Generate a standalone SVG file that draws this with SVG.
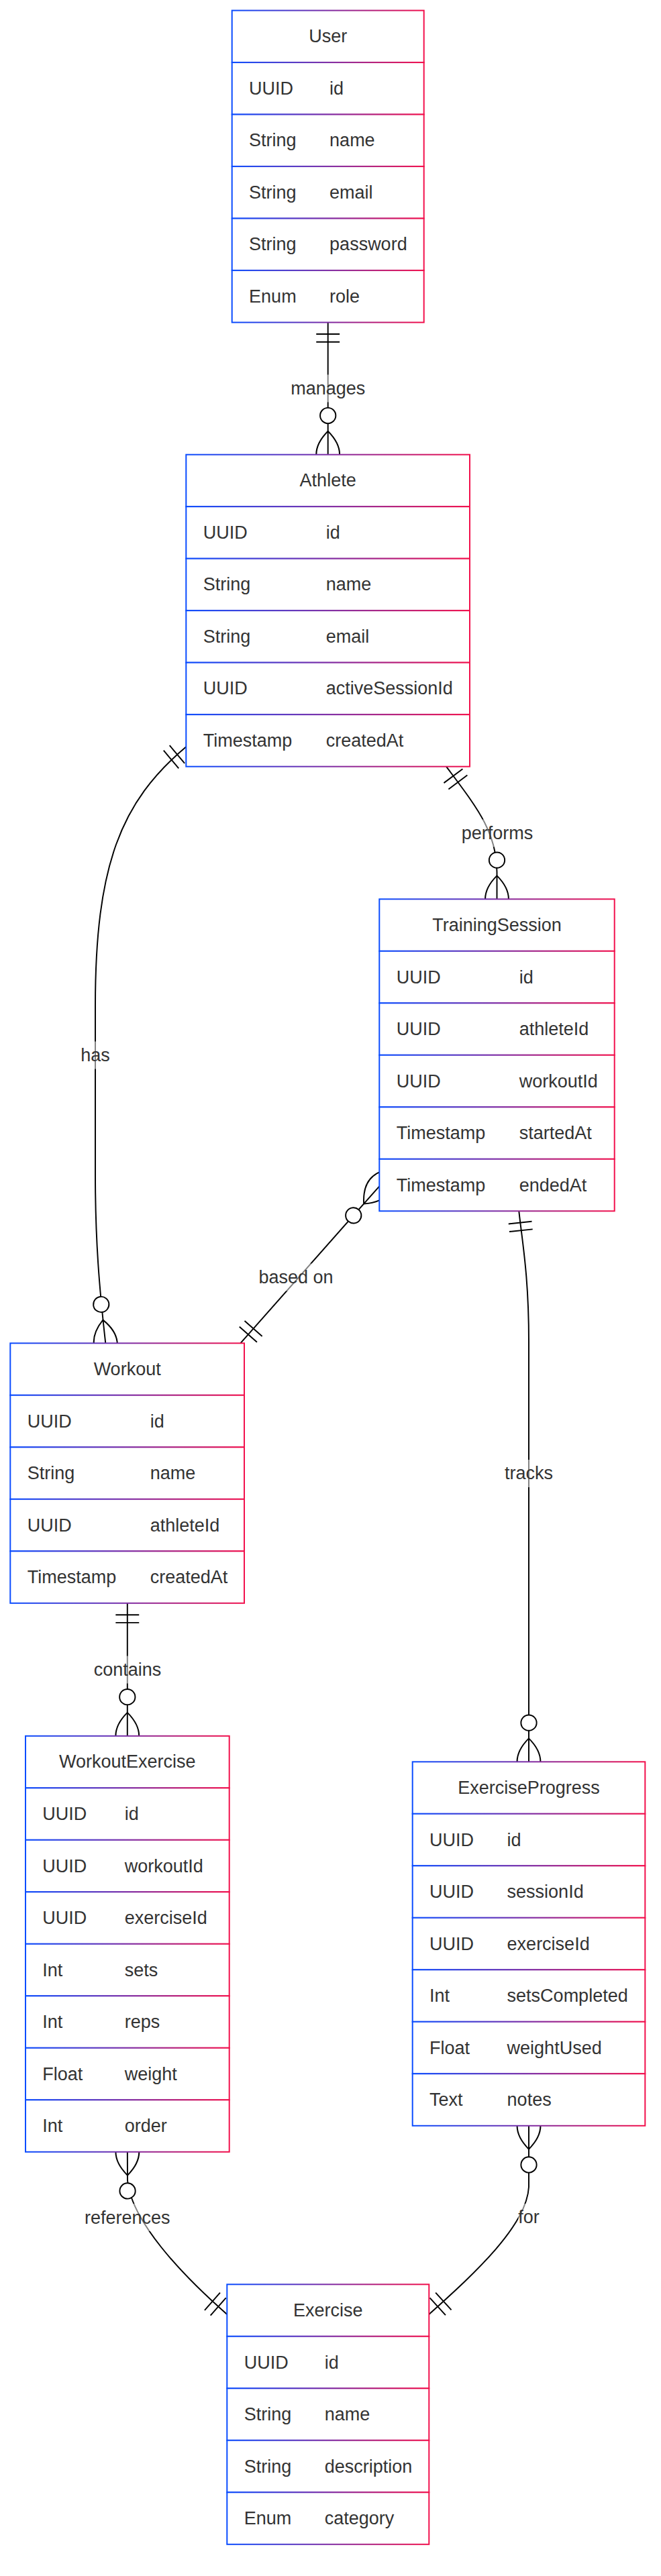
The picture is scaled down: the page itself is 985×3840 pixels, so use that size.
<svg xmlns="http://www.w3.org/2000/svg" width="985" height="3840" viewBox="0 0 985 3840">
<defs>
<linearGradient id="bg" x1="0" y1="0" x2="1" y2="0">
<stop offset="0" stop-color="#0a4cff"/>
<stop offset="1" stop-color="#f2104c"/>
</linearGradient>
<marker id="many" markerUnits="userSpaceOnUse" viewBox="0 0 57 36" markerWidth="110.6" markerHeight="69.8" refX="39" refY="18" orient="auto" overflow="visible">
<circle cx="9" cy="18" r="6" fill="#fff" stroke="#000" stroke-width="1"/>
<path d="M21,18 Q39,0 57,18 Q39,36 21,18" fill="none" stroke="#000" stroke-width="1"/>
</marker>
<marker id="one" markerUnits="userSpaceOnUse" viewBox="0 0 18 18" markerWidth="34.9" markerHeight="34.9" refX="0" refY="9" orient="auto" overflow="visible">
<path d="M9,0 L9,18 M15,0 L15,18" fill="none" stroke="#000" stroke-width="1"/>
</marker>
</defs>
<style>
.row{fill:#fff;stroke:url(#bg);stroke-width:2}
.t{font-family:"Liberation Sans",Arial,sans-serif;font-size:27px;fill:#333}
.c{text-anchor:middle}
.e{fill:none;stroke:#000;stroke-width:1.94;marker-start:url(#one);marker-end:url(#many)}
.lb{fill:#fff;fill-opacity:0.5}
</style>
<rect width="985" height="3840" fill="#fff"/>
<g id="connectors">
<path class="e" d="M488.7,480.6 L488.7,677.7"/>
<path class="e" d="M665,1142.7 C710,1203 740.5,1240 740.5,1300 L740.5,1340.3"/>
<path class="e" d="M277.3,1113.3 C180,1195 142,1290 142,1500 L142,1750 C142,1850 148,1920 157.3,2002.3"/>
<path class="e" d="M358.3,2002.3 L565.3,1768.3"/>
<path class="e" d="M773.3,1805.3 C778,1850 788,1900 788,2000 L788,2626.3"/>
<path class="e" d="M189.8,2389.8 L189.8,2587.8"/>
<path class="e" d="M338.3,3450 C270,3390 195,3310 190,3250 L189.85,3207.8"/>
<path class="e" d="M639.3,3450 C700,3395 785,3320 788,3260 L788,3168.8"/>
<g id="labels">
<rect class="lb" x="433.2" y="558.5" width="111" height="41"/><text class="t c" x="488.7" y="588">manages</text>
<rect class="lb" x="687.7" y="1221.5" width="106.5" height="41"/><text class="t c" x="741" y="1251">performs</text>
<rect class="lb" x="120.2" y="1552.5" width="43.5" height="41"/><text class="t c" x="142" y="1582">has</text>
<rect class="lb" x="385.5" y="1883.5" width="111" height="41"/><text class="t c" x="441" y="1912.5">based on</text>
<rect class="lb" x="752" y="2176" width="72" height="41"/><text class="t c" x="788" y="2205">tracks</text>
<rect class="lb" x="139.7" y="2468.5" width="100.5" height="41"/><text class="t c" x="190" y="2498">contains</text>
<rect class="lb" x="126" y="3285" width="127.5" height="41"/><text class="t c" x="189.7" y="3314.5">references</text>
<rect class="lb" x="772.2" y="3285" width="31.5" height="41"/><text class="t c" x="788" y="3314">for</text>
</g>
</g>
<g id="User">
<rect class="row" x="345.7" y="15.6" width="286" height="77.5"/>
<rect class="row" x="345.7" y="93.1" width="286" height="77.5"/>
<rect class="row" x="345.7" y="170.6" width="286" height="77.5"/>
<rect class="row" x="345.7" y="248.1" width="286" height="77.5"/>
<rect class="row" x="345.7" y="325.6" width="286" height="77.5"/>
<rect class="row" x="345.7" y="403.1" width="286" height="77.5"/>
<text class="t c" x="488.7" y="62.85">User</text>
<text class="t" x="371.1" y="140.85">UUID</text><text class="t" x="491.1" y="140.85">id</text>
<text class="t" x="371.1" y="218.35">String</text><text class="t" x="491.1" y="218.35">name</text>
<text class="t" x="371.1" y="295.85">String</text><text class="t" x="491.1" y="295.85">email</text>
<text class="t" x="371.1" y="373.35">String</text><text class="t" x="491.1" y="373.35">password</text>
<text class="t" x="371.1" y="450.85">Enum</text><text class="t" x="491.1" y="450.85">role</text>
</g>
<g id="Athlete">
<rect class="row" x="277.3" y="677.7" width="422.7" height="77.5"/>
<rect class="row" x="277.3" y="755.2" width="422.7" height="77.5"/>
<rect class="row" x="277.3" y="832.7" width="422.7" height="77.5"/>
<rect class="row" x="277.3" y="910.2" width="422.7" height="77.5"/>
<rect class="row" x="277.3" y="987.7" width="422.7" height="77.5"/>
<rect class="row" x="277.3" y="1065.2" width="422.7" height="77.5"/>
<text class="t c" x="488.65" y="724.95">Athlete</text>
<text class="t" x="302.7" y="802.95">UUID</text><text class="t" x="485.7" y="802.95">id</text>
<text class="t" x="302.7" y="880.45">String</text><text class="t" x="485.7" y="880.45">name</text>
<text class="t" x="302.7" y="957.95">String</text><text class="t" x="485.7" y="957.95">email</text>
<text class="t" x="302.7" y="1035.45">UUID</text><text class="t" x="485.7" y="1035.45">activeSessionId</text>
<text class="t" x="302.7" y="1112.95">Timestamp</text><text class="t" x="485.7" y="1112.95">createdAt</text>
</g>
<g id="TrainingSession">
<rect class="row" x="565.3" y="1340.3" width="350.4" height="77.5"/>
<rect class="row" x="565.3" y="1417.8" width="350.4" height="77.5"/>
<rect class="row" x="565.3" y="1495.3" width="350.4" height="77.5"/>
<rect class="row" x="565.3" y="1572.8" width="350.4" height="77.5"/>
<rect class="row" x="565.3" y="1650.3" width="350.4" height="77.5"/>
<rect class="row" x="565.3" y="1727.8" width="350.4" height="77.5"/>
<text class="t c" x="740.5" y="1387.55">TrainingSession</text>
<text class="t" x="590.7" y="1465.55">UUID</text><text class="t" x="773.7" y="1465.55">id</text>
<text class="t" x="590.7" y="1543.05">UUID</text><text class="t" x="773.7" y="1543.05">athleteId</text>
<text class="t" x="590.7" y="1620.55">UUID</text><text class="t" x="773.7" y="1620.55">workoutId</text>
<text class="t" x="590.7" y="1698.05">Timestamp</text><text class="t" x="773.7" y="1698.05">startedAt</text>
<text class="t" x="590.7" y="1775.55">Timestamp</text><text class="t" x="773.7" y="1775.55">endedAt</text>
</g>
<g id="Workout">
<rect class="row" x="15.3" y="2002.3" width="348.7" height="77.5"/>
<rect class="row" x="15.3" y="2079.8" width="348.7" height="77.5"/>
<rect class="row" x="15.3" y="2157.3" width="348.7" height="77.5"/>
<rect class="row" x="15.3" y="2234.8" width="348.7" height="77.5"/>
<rect class="row" x="15.3" y="2312.3" width="348.7" height="77.5"/>
<text class="t c" x="189.65" y="2049.55">Workout</text>
<text class="t" x="40.7" y="2127.55">UUID</text><text class="t" x="223.7" y="2127.55">id</text>
<text class="t" x="40.7" y="2205.05">String</text><text class="t" x="223.7" y="2205.05">name</text>
<text class="t" x="40.7" y="2282.55">UUID</text><text class="t" x="223.7" y="2282.55">athleteId</text>
<text class="t" x="40.7" y="2360.05">Timestamp</text><text class="t" x="223.7" y="2360.05">createdAt</text>
</g>
<g id="WorkoutExercise">
<rect class="row" x="38" y="2587.8" width="303.7" height="77.5"/>
<rect class="row" x="38" y="2665.3" width="303.7" height="77.5"/>
<rect class="row" x="38" y="2742.8" width="303.7" height="77.5"/>
<rect class="row" x="38" y="2820.3" width="303.7" height="77.5"/>
<rect class="row" x="38" y="2897.8" width="303.7" height="77.5"/>
<rect class="row" x="38" y="2975.3" width="303.7" height="77.5"/>
<rect class="row" x="38" y="3052.8" width="303.7" height="77.5"/>
<rect class="row" x="38" y="3130.3" width="303.7" height="77.5"/>
<text class="t c" x="189.85" y="2635.05">WorkoutExercise</text>
<text class="t" x="63.3" y="2713.05">UUID</text><text class="t" x="185.7" y="2713.05">id</text>
<text class="t" x="63.3" y="2790.55">UUID</text><text class="t" x="185.7" y="2790.55">workoutId</text>
<text class="t" x="63.3" y="2868.05">UUID</text><text class="t" x="185.7" y="2868.05">exerciseId</text>
<text class="t" x="63.3" y="2945.55">Int</text><text class="t" x="185.7" y="2945.55">sets</text>
<text class="t" x="63.3" y="3023.05">Int</text><text class="t" x="185.7" y="3023.05">reps</text>
<text class="t" x="63.3" y="3100.55">Float</text><text class="t" x="185.7" y="3100.55">weight</text>
<text class="t" x="63.3" y="3178.05">Int</text><text class="t" x="185.7" y="3178.05">order</text>
</g>
<g id="ExerciseProgress">
<rect class="row" x="614.7" y="2626.3" width="346.6" height="77.5"/>
<rect class="row" x="614.7" y="2703.8" width="346.6" height="77.5"/>
<rect class="row" x="614.7" y="2781.3" width="346.6" height="77.5"/>
<rect class="row" x="614.7" y="2858.8" width="346.6" height="77.5"/>
<rect class="row" x="614.7" y="2936.3" width="346.6" height="77.5"/>
<rect class="row" x="614.7" y="3013.8" width="346.6" height="77.5"/>
<rect class="row" x="614.7" y="3091.3" width="346.6" height="77.5"/>
<text class="t c" x="788" y="2673.55">ExerciseProgress</text>
<text class="t" x="640.1" y="2751.55">UUID</text><text class="t" x="755.6" y="2751.55">id</text>
<text class="t" x="640.1" y="2829.05">UUID</text><text class="t" x="755.6" y="2829.05">sessionId</text>
<text class="t" x="640.1" y="2906.55">UUID</text><text class="t" x="755.6" y="2906.55">exerciseId</text>
<text class="t" x="640.1" y="2984.05">Int</text><text class="t" x="755.6" y="2984.05">setsCompleted</text>
<text class="t" x="640.1" y="3061.55">Float</text><text class="t" x="755.6" y="3061.55">weightUsed</text>
<text class="t" x="640.1" y="3139.05">Text</text><text class="t" x="755.6" y="3139.05">notes</text>
</g>
<g id="Exercise">
<rect class="row" x="338.3" y="3405.3" width="301" height="77.5"/>
<rect class="row" x="338.3" y="3482.8" width="301" height="77.5"/>
<rect class="row" x="338.3" y="3560.3" width="301" height="77.5"/>
<rect class="row" x="338.3" y="3637.8" width="301" height="77.5"/>
<rect class="row" x="338.3" y="3715.3" width="301" height="77.5"/>
<text class="t c" x="488.8" y="3452.55">Exercise</text>
<text class="t" x="363.7" y="3530.55">UUID</text><text class="t" x="483.7" y="3530.55">id</text>
<text class="t" x="363.7" y="3608.05">String</text><text class="t" x="483.7" y="3608.05">name</text>
<text class="t" x="363.7" y="3685.55">String</text><text class="t" x="483.7" y="3685.55">description</text>
<text class="t" x="363.7" y="3763.05">Enum</text><text class="t" x="483.7" y="3763.05">category</text>
</g>
</svg>
